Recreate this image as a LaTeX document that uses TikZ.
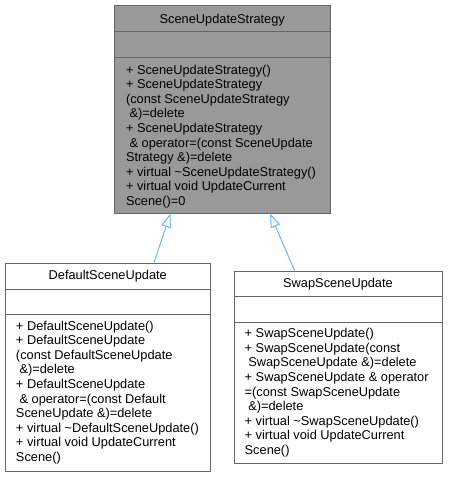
\documentclass[tikz,border=0pt]{standalone}
\usepackage{fontspec}
\setmainfont{Liberation Sans}
\usetikzlibrary{arrows.meta,calc}
\definecolor{edgeblue}{HTML}{63B8FF}
\definecolor{boxline}{HTML}{666666}
\definecolor{basefill}{HTML}{999999}
\newcommand\memberlines[1]{\begin{tabular}[t]{@{}l@{}}#1\end{tabular}}
\begin{document}
\begin{tikzpicture}[x=1pt,y=-1pt,
  classbox/.style={draw=boxline, line width=1pt, inner sep=0pt},
  divider/.style={draw=boxline, line width=1pt},
  txt/.style={inner sep=0pt, font=\fontsize{12.8}{14.6}\selectfont},
  members/.style={txt, anchor=base west},
  title/.style={txt, anchor=base},
  inherit/.style={draw=edgeblue, line width=1pt, -{Triangle[open, length=14pt, width=10pt]}}
]
\useasboundingbox (0,0) rectangle (448,477);

% base class
\node[classbox, fill=basefill, minimum width=215.5pt, minimum height=208pt] (sus) at (222.25,109) {};
\draw[divider] (sus.west |- 0,31.5) -- (sus.east |- 0,31.5);
\draw[divider] (sus.west |- 0,57) -- (sus.east |- 0,57);
\node[title] (susT) at (222.25,23) {SceneUpdateStrategy};
\node[members] (susM) at (125.8,74) {\memberlines{%
+ SceneUpdateStrategy()\\
+ SceneUpdateStrategy\\
(const SceneUpdateStrategy\\
\ \&)=delete\\
+ SceneUpdateStrategy\\
\ \& operator=(const SceneUpdate\\
Strategy \&)=delete\\
+ virtual \textasciitilde SceneUpdateStrategy()\\
+ virtual void UpdateCurrent\\
Scene()=0}};

% DefaultSceneUpdate
\node[classbox, fill=white, minimum width=205.5pt, minimum height=208pt] (dsu) at (107.75,367) {};
\draw[divider] (dsu.west |- 0,289) -- (dsu.east |- 0,289);
\draw[divider] (dsu.west |- 0,314) -- (dsu.east |- 0,314);
\node[title] (dsuT) at (107.75,279) {DefaultSceneUpdate};
\node[members] (dsuM) at (15.8,330) {\memberlines{%
+ DefaultSceneUpdate()\\
+ DefaultSceneUpdate\\
(const DefaultSceneUpdate\\
\ \&)=delete\\
+ DefaultSceneUpdate\\
\ \& operator=(const Default\\
SceneUpdate \&)=delete\\
+ virtual \textasciitilde DefaultSceneUpdate()\\
+ virtual void UpdateCurrent\\
Scene()}};

% SwapSceneUpdate
\node[classbox, fill=white, minimum width=208pt, minimum height=192.5pt] (ssu) at (338,367.25) {};
\draw[divider] (ssu.west |- 0,296) -- (ssu.east |- 0,296);
\draw[divider] (ssu.west |- 0,322) -- (ssu.east |- 0,322);
\node[title] (ssuT) at (338,287.3) {SwapSceneUpdate};
\node[members] (ssuM) at (244.5,337.7) {\memberlines{%
+ SwapSceneUpdate()\\
+ SwapSceneUpdate(const\\
\ SwapSceneUpdate \&)=delete\\
+ SwapSceneUpdate \& operator\\
=(const SwapSceneUpdate\\
\ \&)=delete\\
+ virtual \textasciitilde SwapSceneUpdate()\\
+ virtual void UpdateCurrent\\
Scene()}};

% inheritance
\draw[inherit] ([xshift=149.5pt]dsu.north west) -- ([xshift=56.5pt]sus.south west);
\draw[inherit] ([xshift=61pt]ssu.north west) -- ([xshift=156pt]sus.south west);
\end{tikzpicture}
\end{document}
